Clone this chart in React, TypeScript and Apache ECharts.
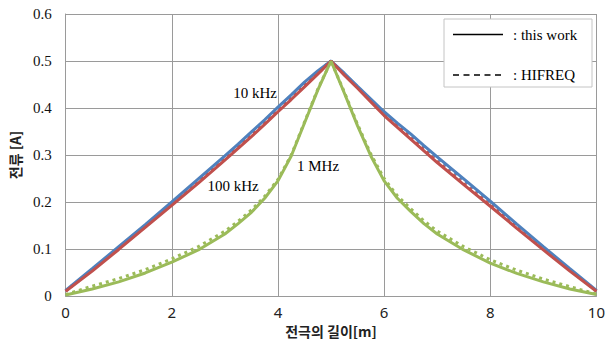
import React, { useEffect, useRef } from "react";
import * as echarts from "echarts";

// electrode position [m]
const xs = [0, 0.5, 1, 1.5, 2, 2.5, 3, 3.25, 3.5, 3.75, 4, 4.25, 4.5, 4.75, 5, 5.25, 5.5, 5.75, 6, 6.25, 6.5, 6.75, 7, 7.5, 8, 8.5, 9, 9.5, 10];

// this work
const work10k = [0.012, 0.058, 0.105, 0.152, 0.2, 0.249, 0.298, 0.323, 0.349, 0.375, 0.402, 0.428, 0.455, 0.479, 0.5, 0.474, 0.446, 0.419, 0.392, 0.368, 0.345, 0.32, 0.296, 0.249, 0.202, 0.153, 0.105, 0.058, 0.012];
const work100k = [0.01, 0.053, 0.099, 0.146, 0.193, 0.24, 0.289, 0.314, 0.339, 0.365, 0.392, 0.418, 0.445, 0.472, 0.5, 0.47, 0.442, 0.413, 0.384, 0.359, 0.334, 0.309, 0.284, 0.237, 0.191, 0.144, 0.098, 0.053, 0.01];
const work1M = [0.002, 0.015, 0.03, 0.049, 0.072, 0.098, 0.132, 0.154, 0.178, 0.208, 0.245, 0.298, 0.368, 0.438, 0.5, 0.432, 0.362, 0.298, 0.245, 0.208, 0.18, 0.154, 0.132, 0.098, 0.07, 0.048, 0.03, 0.015, 0.003];

// HIFREQ
const hif10k = [0.011, 0.056, 0.103, 0.15, 0.198, 0.247, 0.296, 0.321, 0.347, 0.373, 0.4, 0.426, 0.453, 0.477, 0.5, 0.472, 0.444, 0.417, 0.39, 0.366, 0.343, 0.318, 0.294, 0.247, 0.2, 0.151, 0.103, 0.056, 0.011];
const hif100k = [0.011, 0.055, 0.101, 0.148, 0.195, 0.242, 0.291, 0.316, 0.341, 0.367, 0.394, 0.42, 0.447, 0.474, 0.5, 0.472, 0.444, 0.415, 0.386, 0.361, 0.336, 0.311, 0.286, 0.239, 0.193, 0.146, 0.1, 0.055, 0.011];
const hif1M = [0.003, 0.021, 0.037, 0.056, 0.079, 0.105, 0.138, 0.159, 0.183, 0.212, 0.248, 0.3, 0.37, 0.44, 0.5, 0.434, 0.365, 0.302, 0.25, 0.213, 0.186, 0.16, 0.138, 0.105, 0.077, 0.055, 0.036, 0.02, 0.004];

const xTicks = [0, 2, 4, 6, 8, 10];
const yTicks = [0, 0.1, 0.2, 0.3, 0.4, 0.5, 0.6];

const BLUE = "#4F81BD";
const RED = "#C0504D";
const GREEN = "#9BBB59";
const GRID = "#9a9a9a";

const pairs = (ys: number[]) => xs.map((x, i) => [x, ys[i]]);

export default function App() {
  const ref = useRef<HTMLDivElement>(null);
  useEffect(() => {
    if (!ref.current) return;
    const chart = echarts.init(ref.current, undefined, { renderer: "svg" });
    const solid = (name: string, ys: number[], color: string) => ({
      name,
      type: "line",
      data: pairs(ys),
      showSymbol: false,
      symbol: "none",
      lineStyle: { color, width: 3 },
      z: 3,
    });
    const dotted = (name: string, ys: number[], color: string) => ({
      name,
      type: "line",
      data: pairs(ys),
      showSymbol: false,
      symbol: "none",
      lineStyle: { color, width: 3, type: [3, 4], cap: "butt" },
      z: 2,
    });
    chart.setOption({
      animation: false,
      backgroundColor: "#fff",
      grid: { left: 63, right: 10, top: 14, bottom: 48, containLabel: false },
      xAxis: {
        type: "value",
        min: xTicks[0],
        max: xTicks[xTicks.length - 1],
        interval: 2,
        name: "전극의 길이[m]",
        nameLocation: "middle",
        nameGap: 25,
        nameTextStyle: { fontFamily: "Noto Sans CJK KR", fontWeight: "bold", fontSize: 14, color: "#222" },
        axisLine: { lineStyle: { color: GRID, width: 1 } },
        axisTick: { show: false },
        axisLabel: { fontFamily: "Noto Sans", fontSize: 15, color: "#222", margin: 8 },
        splitLine: { show: true, lineStyle: { color: GRID, width: 1 } },
      },
      yAxis: {
        type: "value",
        min: yTicks[0],
        max: yTicks[yTicks.length - 1],
        interval: 0.1,
        name: "전류 [A]",
        nameLocation: "middle",
        nameGap: 41,
        nameTextStyle: { fontFamily: "Noto Sans CJK KR", fontWeight: "bold", fontSize: 14, color: "#222" },
        axisLine: { show: true, lineStyle: { color: GRID, width: 1 } },
        axisTick: { show: false },
        axisLabel: { fontFamily: "Liberation Serif", fontSize: 15, color: "#111", margin: 14 },
        splitLine: { show: true, lineStyle: { color: GRID, width: 1 } },
      },
      series: [
        dotted("HIFREQ 10 kHz", hif10k, BLUE),
        dotted("HIFREQ 100 kHz", hif100k, RED),
        dotted("HIFREQ 1 MHz", hif1M, GREEN),
        solid("this work 10 kHz", work10k, BLUE),
        solid("this work 100 kHz", work100k, RED),
        solid("this work 1 MHz", work1M, GREEN),
      ],
      graphic: [
        {
          type: "rect",
          shape: { x: 444, y: 19, width: 148, height: 68 },
          style: { fill: "#fff", stroke: "#c4c4c4", lineWidth: 1 },
          z: 10,
        },
        {
          type: "line",
          shape: { x1: 453, y1: 34.5, x2: 503, y2: 34.5 },
          style: { stroke: "#000", lineWidth: 1.5 },
          z: 11,
        },
        {
          type: "text",
          x: 513,
          y: 35,
          style: { text: ": this work", fontFamily: "Liberation Serif", fontSize: 15, fill: "#000", verticalAlign: "middle" },
          z: 11,
        },
        {
          type: "line",
          shape: { x1: 453, y1: 75, x2: 505, y2: 75 },
          style: { stroke: "#000", lineWidth: 1.5, lineDash: [6, 4.5] },
          z: 11,
        },
        {
          type: "text",
          x: 513,
          y: 75,
          style: { text: ": HIFREQ", fontFamily: "Liberation Serif", fontSize: 15, fill: "#000", verticalAlign: "middle" },
          z: 11,
        },
        {
          type: "text",
          x: 255,
          y: 92.5,
          style: { text: "10 kHz", fontFamily: "Liberation Serif", fontSize: 15, fill: "#000", align: "center", verticalAlign: "middle" },
          z: 11,
        },
        {
          type: "text",
          x: 233,
          y: 186,
          style: { text: "100 kHz", fontFamily: "Liberation Serif", fontSize: 15, fill: "#000", align: "center", verticalAlign: "middle" },
          z: 11,
        },
        {
          type: "text",
          x: 318,
          y: 166,
          style: { text: "1 MHz", fontFamily: "Liberation Serif", fontSize: 15, fill: "#000", align: "center", verticalAlign: "middle" },
          z: 11,
        },
      ],
    });
    return () => chart.dispose();
  }, []);
  return (
    <div
      ref={ref}
      style={{ position: "fixed", left: 0, top: 0, width: 608, height: 344, background: "#fff" }}
    />
  );
}
